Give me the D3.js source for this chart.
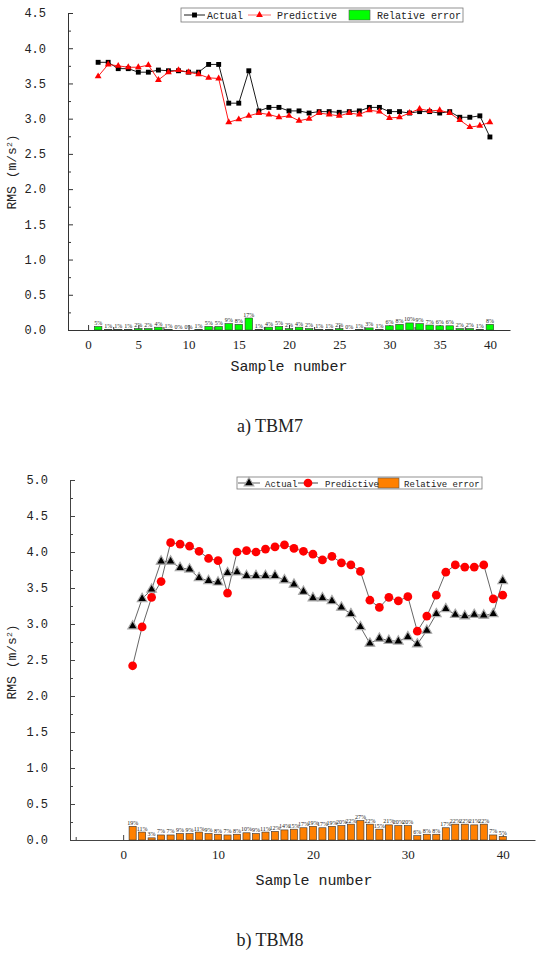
<!DOCTYPE html>
<html>
<head>
<meta charset="utf-8">
<script src="https://cdn.jsdelivr.net/npm/d3@7"></script>
<style>
	body { margin: 0; background: #fff; }
	svg { display: block; }
	text { fill: #222; }
</style>
</head>
<body>
<svg id="chart" width="540" height="953"></svg>
<script>
// sample numbers shared by both panels
var samples = d3.range(1, 41);

// a) TBM7
var tbm7Actual = [3.80, 3.80, 3.71, 3.71, 3.66, 3.66, 3.69, 3.68, 3.68, 3.66,
	3.66, 3.77, 3.77, 3.22, 3.22, 3.68, 3.11, 3.16, 3.16, 3.11,
	3.11, 3.08, 3.10, 3.10, 3.09, 3.10, 3.11, 3.16, 3.16, 3.10,
	3.10, 3.08, 3.10, 3.10, 3.08, 3.10, 3.02, 3.02, 3.04, 2.74];
var tbm7Predictive = [3.60, 3.77, 3.75, 3.73, 3.73, 3.76, 3.55, 3.66, 3.69, 3.66,
	3.63, 3.58, 3.57, 2.95, 2.99, 3.04, 3.08, 3.06, 3.02, 3.04,
	2.97, 3.00, 3.08, 3.06, 3.04, 3.08, 3.06, 3.12, 3.10, 3.01,
	3.02, 3.08, 3.14, 3.11, 3.12, 3.08, 2.98, 2.88, 2.90, 2.95];
var tbm7Error = [5, 1, 1, 1, 2, 2, 4, 1, 0, 0, 1, 5, 5, 9, 8, 17, 1, 4, 5, 2,
	4, 2, 1, 1, 2, 0, 1, 3, 1, 6, 8, 10, 9, 7, 6, 6, 2, 2, 1, 8];

// b) TBM8
var tbm8Actual = [2.97, 3.35, 3.48, 3.87, 3.87, 3.78, 3.76, 3.64, 3.60, 3.58,
	3.71, 3.72, 3.67, 3.67, 3.67, 3.67, 3.61, 3.55, 3.45, 3.36,
	3.36, 3.32, 3.23, 3.14, 2.96, 2.73, 2.80, 2.77, 2.76, 2.82,
	2.72, 2.91, 3.14, 3.21, 3.13, 3.11, 3.13, 3.12, 3.14, 3.60];
var tbm8Predictive = [2.42, 2.96, 3.37, 3.59, 4.13, 4.11, 4.08, 4.01, 3.91, 3.88,
	3.43, 4.00, 4.02, 4.00, 4.04, 4.07, 4.10, 4.05, 4.01, 3.97,
	3.89, 3.94, 3.85, 3.82, 3.73, 3.33, 3.23, 3.37, 3.32, 3.38,
	2.90, 3.11, 3.40, 3.72, 3.82, 3.79, 3.79, 3.82, 3.35, 3.40];
var tbm8Error = [19, 11, 3, 7, 7, 9, 9, 11, 9, 8, 7, 8, 10, 9, 11, 12, 14, 15, 17, 19,
	17, 19, 20, 22, 27, 22, 15, 21, 20, 20, 6, 8, 8, 17, 22, 22, 21, 22, 7, 5];

// tick values
var tbm7XTicks = [0, 5, 10, 15, 20, 25, 30, 35, 40];
var tbm7YTicks = [0, 0.5, 1, 1.5, 2, 2.5, 3, 3.5, 4, 4.5];
var tbm8XTicks = [0, 10, 20, 30, 40];
var tbm8YTicks = [0, 0.5, 1, 1.5, 2, 2.5, 3, 3.5, 4, 4.5, 5];

var seriesLabels = ['Actual', 'Predictive', 'Relative error'];
var captions = ['a) TBM7', 'b) TBM8'];

var MONO = '"Liberation Mono", "DejaVu Sans Mono", monospace';
var SERIF = '"Liberation Serif", "Times New Roman", serif';

var svg = d3.select('#chart');

var rows = (actual, pred, err) => samples.map((s, i) => ({
	x: s, actual: actual[i], pred: pred[i], err: err[i]
}));

// draw one panel
var drawPanel = function(cfg)
{
	var g = svg.append('g');
	var x = d3.scaleLinear().domain(cfg.xDomain).range(cfg.xRange);
	var y = d3.scaleLinear().domain(cfg.yDomain).range(cfg.yRange);
	var data = rows(cfg.actual, cfg.pred, cfg.err);
	var y0 = y(0);

	// axes, ticks inward
	var xAxis = d3.axisBottom(x).tickValues(cfg.xTicks).tickSizeInner(-5).tickSizeOuter(0)
		.tickPadding(10).tickFormat(d3.format('d'));
	var xMinor = d3.axisBottom(x).tickValues(cfg.xMinor).tickSize(-3).tickFormat('');
	var yAxis = d3.axisLeft(y).tickValues(cfg.yTicks).tickSizeInner(-5).tickSizeOuter(0)
		.tickPadding(22).tickFormat(d3.format('.1f'));
	var yMinor = d3.axisLeft(y).tickValues(cfg.yMinor).tickSize(-3).tickFormat('');

	var gx = g.append('g').attr('transform', `translate(0,${y0})`).call(xAxis);
	g.append('g').attr('transform', `translate(0,${y0})`).call(xMinor).select('.domain').remove();
	var gy = g.append('g').attr('transform', `translate(${cfg.xRange[0]},0)`).call(yAxis);
	g.append('g').attr('transform', `translate(${cfg.xRange[0]},0)`).call(yMinor).select('.domain').remove();

	gx.selectAll('text').style('font-family', SERIF).style('font-size', '13px').attr('fill', '#222');
	gy.selectAll('text').style('font-family', MONO).style('font-size', '12px').attr('fill', '#222');
	g.selectAll('.domain, .tick line').attr('stroke', cfg.axisColor);

	// bars
	var bw = (x(1) - x(0)) * 0.75;
	g.append('g').selectAll('rect').data(data).enter().append('rect')
		.attr('x', (d) => x(d.x) - bw / 2)
		.attr('y', (d) => y(d.err / 100))
		.attr('width', bw)
		.attr('height', (d) => y0 - y(d.err / 100))
		.attr('fill', cfg.barColor)
		.attr('stroke', '#333')
		.attr('stroke-width', 0.6);
	g.append('g').selectAll('text').data(data).enter().append('text')
		.attr('x', (d) => x(d.x))
		.attr('y', (d) => y(d.err / 100) - 1.5)
		.attr('text-anchor', 'middle')
		.style('font-family', SERIF)
		.style('font-size', '6px')
		.attr('fill', '#555')
		.text((d) => d.err + '%');

	// lines
	var line = (key) => d3.line().x((d) => x(d.x)).y((d) => y(d[key]));
	g.append('path').datum(data).attr('d', line('actual'))
		.attr('fill', 'none').attr('stroke', cfg.actualLine).attr('stroke-width', 0.9);
	g.append('path').datum(data).attr('d', line('pred'))
		.attr('fill', 'none').attr('stroke', cfg.predLine).attr('stroke-width', 0.9);

	// markers
	cfg.actualMarker(g.append('g').selectAll('path').data(data).enter()
		.append('path').attr('transform', (d) => `translate(${x(d.x)},${y(d.actual)})`));
	cfg.predMarker(g.append('g').selectAll('path').data(data).enter()
		.append('path').attr('transform', (d) => `translate(${x(d.x)},${y(d.pred)})`));

	// axis titles
	g.append('text')
		.attr('x', cfg.xTitle[0]).attr('y', cfg.xTitle[1])
		.attr('text-anchor', 'middle')
		.style('font-family', MONO).style('font-size', '15px')
		.text('Sample number');
	var yt = g.append('text')
		.attr('transform', `translate(${cfg.yTitle[0]},${cfg.yTitle[1]}) rotate(-90)`)
		.attr('text-anchor', 'middle')
		.style('font-family', MONO).style('font-size', '13px');
	yt.append('tspan').text('RMS (m/s');
	yt.append('tspan').attr('dy', -4).style('font-size', '8px').text('2');
	yt.append('tspan').attr('dy', 4).text(')');

	// caption
	g.append('text')
		.attr('x', 270).attr('y', cfg.caption[1])
		.attr('text-anchor', 'middle')
		.style('font-family', SERIF).style('font-size', '18px')
		.attr('fill', '#000')
		.text(cfg.caption[0]);

	// legend
	var L = cfg.legend;
	var lg = g.append('g');
	lg.append('rect').attr('x', L.box[0]).attr('y', L.box[1])
		.attr('width', L.box[2]).attr('height', L.box[3])
		.attr('fill', '#fff').attr('stroke', '#777').attr('stroke-width', 0.8);
	var ly = L.box[1] + L.box[3] / 2;
	lg.append('line').attr('x1', L.a[0]).attr('x2', L.a[1]).attr('y1', ly).attr('y2', ly)
		.attr('stroke', cfg.actualLine).attr('stroke-width', 0.9);
	cfg.actualMarker(lg.append('path').attr('transform', `translate(${(L.a[0] + L.a[1]) / 2},${ly})`));
	lg.append('line').attr('x1', L.p[0]).attr('x2', L.p[1]).attr('y1', ly).attr('y2', ly)
		.attr('stroke', cfg.legendPredLine).attr('stroke-width', 0.9);
	cfg.predMarker(lg.append('path').attr('transform', `translate(${(L.p[0] + L.p[1]) / 2},${ly})`));
	lg.append('rect').attr('x', L.r[0]).attr('y', ly - 5).attr('width', L.r[1] - L.r[0]).attr('height', 10)
		.attr('fill', cfg.barColor).attr('stroke', '#555').attr('stroke-width', 0.6);
	[L.a[2], L.p[2], L.r[2]].forEach((tx, i) => {
		lg.append('text').attr('x', tx).attr('y', ly + 3.5)
			.style('font-family', MONO).style('font-size', L.font)
			.attr('fill', '#333')
			.text(seriesLabels[i]);
	});
};

drawPanel({
	actual: tbm7Actual, pred: tbm7Predictive, err: tbm7Error,
	xDomain: [-2, 42], xRange: [68, 510],
	yDomain: [0, 4.5], yRange: [330, 13],
	xTicks: tbm7XTicks, xMinor: [2.5, 7.5, 12.5, 17.5, 22.5, 27.5, 32.5, 37.5],
	yTicks: tbm7YTicks, yMinor: [0.25, 0.75, 1.25, 1.75, 2.25, 2.75, 3.25, 3.75, 4.25],
	axisColor: '#333',
	barColor: '#00ff00',
	actualLine: '#000', predLine: '#ff0000', legendPredLine: '#ff6060',
	actualMarker: (sel) => sel.attr('d', d3.symbol(d3.symbolSquare, 24)).attr('fill', '#000'),
	predMarker: (sel) => sel.attr('d', d3.symbol(d3.symbolTriangle, 20)).attr('fill', '#ff0000'),
	xTitle: [289, 371], yTitle: [16, 172],
	caption: [captions[0], 432],
	legend: { box: [181, 8, 282, 14], a: [184, 205, 207], p: [248, 271, 277], r: [349, 370, 377], font: '10px' }
});

drawPanel({
	actual: tbm8Actual, pred: tbm8Predictive, err: tbm8Error,
	xDomain: [-5.6, 43.4], xRange: [70, 535],
	yDomain: [0, 5], yRange: [840, 480],
	xTicks: tbm8XTicks, xMinor: [-5, 5, 15, 25, 35],
	yTicks: tbm8YTicks, yMinor: [0.25, 0.75, 1.25, 1.75, 2.25, 2.75, 3.25, 3.75, 4.25, 4.75],
	axisColor: '#444',
	barColor: '#ff8000',
	actualLine: '#555', predLine: '#555', legendPredLine: '#333',
	actualMarker: (sel) => sel.attr('d', d3.symbol(d3.symbolTriangle, 40)).attr('fill', '#000')
		.attr('stroke', '#aaa').attr('stroke-width', 1.2),
	predMarker: (sel) => sel.attr('d', d3.symbol(d3.symbolCircle, 60)).attr('fill', '#ff0000'),
	xTitle: [314, 885], yTitle: [16, 662],
	caption: [captions[1], 946],
	legend: { box: [237, 477, 245, 12], a: [238, 260, 265], p: [298, 318, 325], r: [378, 399, 404], font: '9px' }
});
</script>
</body>
</html>
